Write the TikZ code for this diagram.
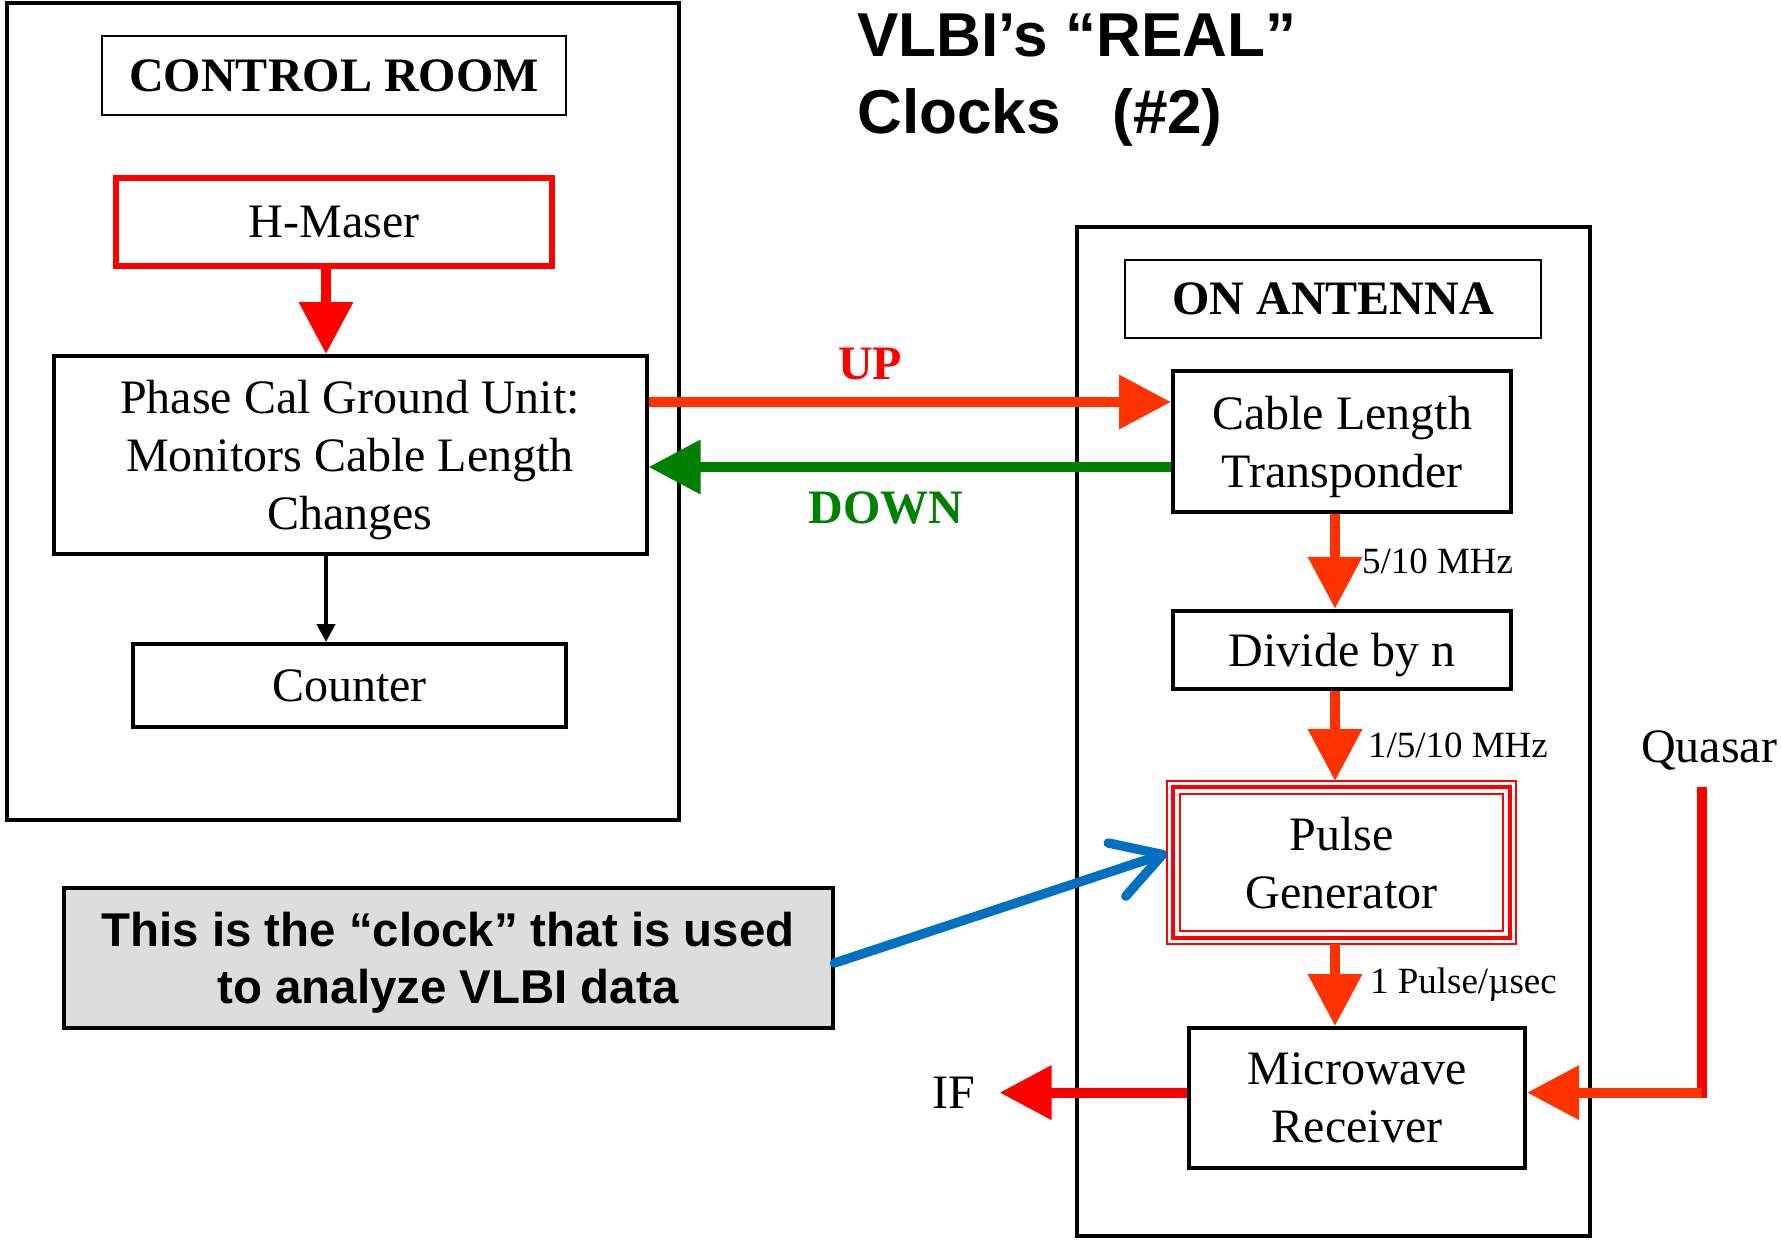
\documentclass[tikz,border=0pt]{standalone}
\usepackage{fontspec}
\setmainfont{Liberation Serif}
\setsansfont{Liberation Sans}
\usetikzlibrary{positioning,arrows.meta}

\definecolor{upred}{RGB}{255,51,0}
\definecolor{downgreen}{RGB}{0,128,0}
\definecolor{notegray}{RGB}{221,221,221}
\definecolor{clockblue}{RGB}{0,112,192}

\newcommand\boxfont{\fontsize{24}{29}\selectfont}
\newcommand\tagfont{\bfseries\fontsize{24}{29}\selectfont}
\newcommand\freqfont{\fontsize{18.5}{22}\selectfont}
\newcommand\titlefont{\sffamily\bfseries\fontsize{31}{38.6}\selectfont}
\newcommand\notefont{\sffamily\bfseries\fontsize{23.7}{28.4}\selectfont}

\begin{document}
\begin{tikzpicture}[x=0.5pt,y=-0.5pt]
\tikzset{room/.style={draw, line width=2.2pt, inner sep=0},
  tag/.style={draw, line width=0.85pt, font=\tagfont, inner sep=0},
  unit/.style={draw, line width=2pt, align=center, font=\boxfont, inner sep=0, text depth=0pt},
  feed/.style={line width=5pt, -{Triangle[length=26pt,width=26pt]}},
  freq/.style={font=\freqfont, text=black, inner sep=0},
  sig/.style={font=\boxfont, inner sep=0},
  pointer/.style={clockblue, line width=4.7pt, line cap=round, -{Straight Barb[length=24pt,width=28pt,round]}}}
\useasboundingbox (0,0) rectangle (1781,1239);

\node [room, minimum width=336pt, minimum height=408.5pt] at (343,411.5) (ctrlroom) {};
\node [tag, minimum width=232pt, minimum height=39.5pt] at (334,75.5) (crtag) {CONTROL ROOM};
\node [unit, red, text=black, line width=3pt, minimum width=218pt, minimum height=44pt] at (334,222) (hmaser) {H-Maser};
\node [unit, minimum width=296.5pt, minimum height=99pt] at (350,455) (pcal) {Phase Cal Ground Unit:\\Monitors Cable Length\\Changes};
\node [unit, minimum width=216.5pt, minimum height=41.5pt] at (349.5,685.5) (counter) {Counter};

\node [font=\titlefont, align=left, anchor=north west, inner sep=0] at (857,13) (title) {VLBI’s “REAL”\\Clocks~~~(\#2)};

\node [room, minimum width=256.5pt, minimum height=504.5pt] at (1333.5,731.5) (antenna) {};
\node [tag, minimum width=207.75pt, minimum height=39.25pt] at (1333,299) (anttag) {ON ANTENNA};
\node [unit, minimum width=169pt, minimum height=70.5pt] at (1342,441.5) (cable) {Cable Length\\Transponder};
\node [unit, minimum width=169pt, minimum height=39.25pt] at (1342,650) (divide) {Divide by n};
\node [unit, red, text=black, line width=0.8pt, outer sep=0pt, minimum width=174.5pt, minimum height=81.5pt] at (1341.5,862.5) (pgen) {Pulse\\Generator};
\draw [red, line width=2.2pt] ([xshift=3pt,yshift=-3pt]pgen.north west) rectangle ([xshift=-3pt,yshift=3pt]pgen.south east);
\draw [red, line width=0.8pt] ([xshift=6.5pt,yshift=-6.5pt]pgen.north west) rectangle ([xshift=-6.5pt,yshift=6.5pt]pgen.south east);
\node [unit, minimum width=168pt, minimum height=70pt] at (1357,1098) (mrx) {Microwave\\Receiver};

\node [unit, fill=notegray, font=\notefont, minimum width=384.5pt, minimum height=70pt] at (448,958) (note) {This is the “clock” that is used\\to analyze VLBI data};

\coordinate (cspine) at (326,0);
\coordinate (aspine) at (1335,0);
\coordinate (uplane) at (0,402);
\coordinate (downlane) at (0,467);
\coordinate (ifend) at (999.5,1092.6);
\coordinate (qtop) at (1701.5,787);
\coordinate (qbend) at (1701.5,1092.6);

\draw [feed, red] (hmaser.south -| cspine) -- (pcal.north -| cspine);
\draw [line width=2.2pt, -{Triangle[length=9pt,width=9pt]}] (pcal.south -| cspine) -- (counter.north -| cspine);

\draw [feed, upred] (pcal.east |- uplane) -- (cable.west |- uplane);
\node [sig, font=\tagfont, text=red] at (870,363.5) (uplbl) {UP};
\draw [feed, downgreen] (cable.west |- downlane) -- (pcal.east |- downlane);
\node [sig, font=\tagfont, text=downgreen] at (886,508) (downlbl) {DOWN};

\draw [feed, upred] (cable.south -| aspine) -- (divide.north -| aspine) node [freq, midway, right=11pt] {5/10 MHz};
\draw [feed, upred] (divide.south -| aspine) -- (pgen.north -| aspine) node [freq, pos=0.6, right=14pt] {1/5/10 MHz};
\draw [feed, upred] (pgen.south -| aspine) -- (mrx.north -| aspine) node [freq, midway, right=15pt] {1 Pulse/µsec};

\draw [feed, red] (mrx.west |- ifend) -- (ifend);
\node [sig, left=12pt of ifend] (iflbl) {IF};

\node [sig] at (1709,750) (quasar) {Quasar};
\draw [red, line width=5pt] (qtop) -- ([yshift=-2.5pt]qbend);
\draw [feed, upred] (qbend) -- (mrx.east |- qbend);

\draw [pointer] ([yshift=-2.5pt]note.east) -- ([yshift=4.75pt]pgen.west);
\end{tikzpicture}
\end{document}
